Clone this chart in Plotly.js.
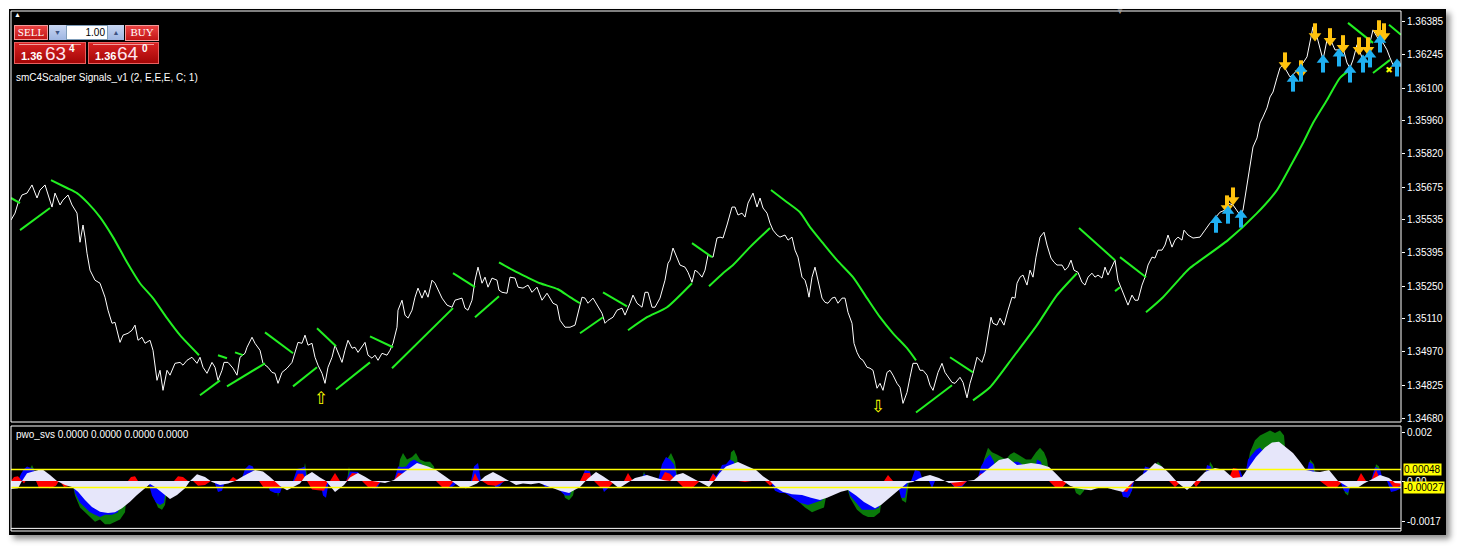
<!DOCTYPE html>
<html><head><meta charset="utf-8">
<script src="https://cdn.plot.ly/plotly-3.0.1.min.js"></script>
<style>
html,body{margin:0;padding:0;background:#fff;width:1457px;height:548px;overflow:hidden;}
#chart{position:absolute;left:9px;top:9px;width:1437px;height:526px;box-shadow:4px 4px 6px rgba(0,0,0,0.45);}
.w{position:absolute;box-sizing:border-box;font-family:"Liberation Sans",Arial,sans-serif;}
.btn{background:linear-gradient(#ea4242,#c21616);border:1px solid #f39a9a;color:#fff;font-family:"Liberation Serif",serif;font-size:11px;text-align:center;line-height:13px;}
.px{background:linear-gradient(#d82222,#a40606);border:1px solid #e86060;color:#fff;}
</style></head>
<body>
<div id="chart"></div>
<!-- trade panel -->
<div class="w" style="left:14px;top:9px;width:10px;height:12px;color:#fff;font-size:7px;line-height:12px;">&#9650;</div>
<div class="w btn" style="left:14px;top:25px;width:34px;height:15px;">SELL</div>
<div class="w" style="left:49px;top:25px;width:17px;height:15px;background:linear-gradient(#c8d6f2,#9fb6e2);color:#3d5282;font-size:7px;text-align:center;line-height:15px;">&#9660;</div>
<div class="w" style="left:66px;top:25px;width:42px;height:15px;background:#fff;border:1px solid #7f9db9;color:#000;font-size:10px;text-align:right;padding-right:2px;line-height:13px;">1.00</div>
<div class="w" style="left:108px;top:25px;width:16px;height:15px;background:linear-gradient(#c8d6f2,#9fb6e2);color:#3d5282;font-size:7px;text-align:center;line-height:15px;">&#9650;</div>
<div class="w btn" style="left:125px;top:25px;width:34px;height:16px;">BUY</div>
<div class="w px" style="left:14px;top:42px;width:72px;height:22px;">
  <div style="position:absolute;left:4px;right:4px;top:1px;height:1px;background:#f0a0a0;"></div>
  <span style="position:absolute;left:6px;top:7px;font-size:11px;font-weight:bold;">1.36</span>
  <span style="position:absolute;left:30px;top:0px;font-size:19px;color:#ffe4ee;">63</span>
  <span style="position:absolute;left:54px;top:0px;font-size:10px;font-weight:bold;">4</span>
</div>
<div class="w px" style="left:88px;top:42px;width:71px;height:22px;">
  <div style="position:absolute;left:4px;right:4px;top:1px;height:1px;background:#f0a0a0;"></div>
  <span style="position:absolute;left:6px;top:7px;font-size:11px;font-weight:bold;">1.36</span>
  <span style="position:absolute;left:28px;top:0px;font-size:19px;color:#ffe4ee;">64</span>
  <span style="position:absolute;left:53px;top:0px;font-size:10px;font-weight:bold;">0</span>
</div>
<div class="w" style="left:1116px;top:8px;width:12px;height:8px;color:#9a9a9a;font-size:8px;line-height:8px;">&#9660;</div>
<script>
// ---- main price series (bar index ~ pixel column) ----
const barX = [11,15,18,22,27,32,37,40,45,48,52,55,60,63,68,72,77,80,83,85,87,90,95,100,105,108,112,115,117,120,123,128,132,135,138,142,145,150,153,155,157,160,163,167,170,175,180,183,187,192,197,200,203,207,212,215,218,222,224,228,233,237,240,245,247,252,255,260,263,268,272,275,278,282,287,292,295,298,302,305,308,312,315,318,322,325,328,332,335,338,342,345,348,352,355,358,362,365,368,372,375,378,382,387,390,393,397,398,402,405,408,412,415,418,422,425,428,432,435,438,442,447,452,455,462,465,468,472,475,478,482,485,488,492,497,499,502,507,510,515,518,523,528,532,537,542,547,550,553,557,560,565,570,575,578,582,585,588,593,598,602,605,608,613,617,622,625,630,633,637,642,645,648,652,655,660,665,668,670,673,677,680,685,688,692,695,698,702,705,708,713,717,720,723,727,732,735,738,742,745,748,753,757,760,763,767,770,773,777,780,785,788,792,795,798,802,805,807,809,812,815,818,822,825,828,832,835,838,842,845,848,852,854,857,860,863,867,870,873,877,880,883,887,890,893,897,900,903,907,910,913,917,920,923,927,930,933,938,942,945,948,952,955,960,963,967,970,973,977,982,985,988,991,993,997,1000,1004,1008,1012,1015,1017,1020,1023,1027,1030,1033,1036,1040,1044,1047,1051,1054,1057,1062,1065,1068,1071,1074,1078,1082,1085,1088,1092,1095,1098,1102,1105,1108,1112,1115,1118,1122,1125,1128,1132,1135,1138,1142,1145,1148,1152,1155,1158,1162,1165,1168,1172,1175,1178,1182,1184,1188,1193,1200,1205,1210,1215,1220,1225,1228,1233,1237,1240,1243,1247,1250,1253,1257,1260,1263,1267,1270,1273,1277,1280,1283,1287,1290,1293,1297,1300,1303,1307,1310,1313,1317,1320,1323,1327,1332,1335,1338,1343,1347,1350,1353,1357,1360,1363,1367,1370,1373,1377,1380,1383,1387,1390,1393,1397,1400];
const closePx = [1.35534,1.35564,1.35607,1.35642,1.35650,1.35685,1.35629,1.35663,1.35685,1.35642,1.35590,1.35650,1.35599,1.35620,1.35642,1.35599,1.35564,1.35439,1.35513,1.35461,1.35392,1.35319,1.35276,1.35263,1.35203,1.35147,1.35091,1.35095,1.35061,1.35009,1.35040,1.35048,1.35061,1.35083,1.35018,1.35031,1.35005,1.35018,1.34975,1.34919,1.34846,1.34889,1.34803,1.34889,1.34868,1.34919,1.34923,1.34911,1.34932,1.34945,1.34919,1.34945,1.34902,1.34876,1.34923,1.34902,1.34846,1.34889,1.34923,1.34923,1.34898,1.34868,1.34945,1.34962,1.34988,1.35031,1.35005,1.34975,1.34919,1.34902,1.34880,1.34876,1.34833,1.34880,1.34898,1.34923,1.34966,1.35009,1.35005,1.35040,1.34997,1.35005,1.34945,1.34911,1.34876,1.34833,1.34902,1.34945,1.34997,1.34966,1.34923,1.34975,1.35018,1.34984,1.34988,1.34966,1.34988,1.35009,1.34954,1.34941,1.34954,1.34932,1.34962,1.34954,1.34975,1.35005,1.35074,1.35147,1.35190,1.35126,1.35113,1.35147,1.35203,1.35242,1.35199,1.35233,1.35203,1.35276,1.35263,1.35233,1.35199,1.35169,1.35160,1.35190,1.35199,1.35156,1.35147,1.35190,1.35276,1.35332,1.35263,1.35289,1.35246,1.35285,1.35276,1.35233,1.35224,1.35220,1.35289,1.35285,1.35246,1.35242,1.35255,1.35224,1.35246,1.35190,1.35220,1.35199,1.35177,1.35169,1.35104,1.35074,1.35074,1.35083,1.35134,1.35203,1.35199,1.35177,1.35199,1.35160,1.35134,1.35091,1.35104,1.35117,1.35147,1.35156,1.35126,1.35177,1.35212,1.35177,1.35160,1.35224,1.35224,1.35160,1.35160,1.35199,1.35276,1.35349,1.35362,1.35414,1.35375,1.35341,1.35332,1.35310,1.35267,1.35319,1.35310,1.35289,1.35319,1.35384,1.35375,1.35457,1.35461,1.35457,1.35513,1.35590,1.35590,1.35556,1.35564,1.35547,1.35607,1.35650,1.35590,1.35629,1.35586,1.35564,1.35521,1.35491,1.35470,1.35461,1.35470,1.35448,1.35461,1.35405,1.35375,1.35289,1.35276,1.35246,1.35203,1.35289,1.35332,1.35276,1.35199,1.35181,1.35177,1.35199,1.35203,1.35177,1.35199,1.35199,1.35138,1.35091,1.35005,1.34966,1.34941,1.34932,1.34902,1.34898,1.34889,1.34812,1.34833,1.34803,1.34880,1.34889,1.34868,1.34833,1.34816,1.34747,1.34794,1.34859,1.34919,1.34919,1.34889,1.34889,1.34868,1.34825,1.34803,1.34880,1.34919,1.34880,1.34859,1.34837,1.34833,1.34859,1.34837,1.34771,1.34833,1.34876,1.34945,1.34923,1.34962,1.35040,1.35117,1.35091,1.35083,1.35113,1.35083,1.35147,1.35203,1.35199,1.35263,1.35289,1.35298,1.35255,1.35319,1.35289,1.35375,1.35461,1.35482,1.35427,1.35371,1.35353,1.35341,1.35341,1.35319,1.35332,1.35362,1.35319,1.35310,1.35267,1.35255,1.35289,1.35306,1.35289,1.35298,1.35285,1.35332,1.35298,1.35332,1.35362,1.35276,1.35233,1.35203,1.35169,1.35212,1.35190,1.35190,1.35255,1.35289,1.35341,1.35375,1.35371,1.35405,1.35405,1.35427,1.35470,1.35418,1.35448,1.35461,1.35448,1.35491,1.35470,1.35457,1.35461,1.35491,1.35521,1.35543,1.35568,1.35577,1.35607,1.35599,1.35577,1.35556,1.35577,1.35693,1.35779,1.35848,1.35887,1.35951,1.35977,1.36016,1.36063,1.36084,1.36145,1.36188,1.36201,1.36170,1.36149,1.36158,1.36179,1.36192,1.36209,1.36235,1.36295,1.36364,1.36321,1.36265,1.36222,1.36308,1.36295,1.36265,1.36265,1.36274,1.36209,1.36188,1.36222,1.36287,1.36256,1.36222,1.36244,1.36295,1.36351,1.36321,1.36299,1.36295,1.36265,1.36231,1.36201,1.36209,1.36213];

// ---- smC4Scalper trend segments ----
const trendX = [[11,20],[20,50],[51,67,77,88,100,113,127,140,153,167,180,199],[200,220],[218,227],[227,265],[235,243],[265,293],[293,317],[317,336],[336,370],[370,393],[392,453],[453,475],[475,499],[499,513,527,540,558,570,580],[580,603],[603,627],[628,647,667,692],[692,712],[709,723,733,750,770],[771,787,800,810,823,837,853,867,880,893,907,916],[916,952],[950,973],[973,990,1013,1037,1057,1077],[1079,1115],[1115,1120],[1120,1146],[1146,1163,1183,1190,1228,1257,1277,1290,1303,1313,1327,1340,1350],[1348,1373],[1373,1390],[1389,1401]];
const trendY = [[1.35629,1.35607],[1.35491,1.35586],[1.35706,1.35672,1.35650,1.35607,1.35547,1.35461,1.35353,1.35263,1.35199,1.35113,1.35040,1.34954],[1.34782,1.34846],[1.34954,1.34941],[1.34820,1.34919],[1.34966,1.34954],[1.35052,1.34962],[1.34820,1.34902],[1.35070,1.34992],[1.34807,1.34923],[1.35035,1.34988],[1.34898,1.35156],[1.35306,1.35246],[1.35117,1.35207],[1.35353,1.35319,1.35289,1.35263,1.35237,1.35203,1.35177],[1.35048,1.35117],[1.35224,1.35164],[1.35061,1.35117,1.35160,1.35263],[1.35435,1.35375],[1.35250,1.35306,1.35341,1.35418,1.35500],[1.35663,1.35611,1.35568,1.35504,1.35435,1.35362,1.35289,1.35199,1.35117,1.35048,1.34984,1.34932],[1.34708,1.34825],[1.34945,1.34880],[1.34760,1.34816,1.34945,1.35083,1.35212,1.35306],[1.35500,1.35362],[1.35229,1.35246],[1.35375,1.35289],[1.35138,1.35203,1.35298,1.35328,1.35448,1.35564,1.35663,1.35762,1.35865,1.35951,1.36050,1.36145,1.36179],[1.36381,1.36295],[1.36166,1.36222],[1.36373,1.36330]];

// ---- signal arrows ----
const sellSigX = [1227,1233,1285,1301,1315,1330,1343,1359,1368,1379,1384];
const sellSigY = [1.35599,1.35633,1.36213,1.36179,1.36338,1.36317,1.36287,1.36278,1.36278,1.36351,1.36338];
const buySigX = [1216,1228,1241,1293,1301,1323,1339,1350,1363,1370,1380,1397];
const buySigY = [1.35521,1.35560,1.35543,1.36127,1.36170,1.36209,1.36235,1.36166,1.36209,1.36231,1.36295,1.36192];
const hollowUpX = [321], hollowUpY = [1.34764];
const hollowDnX = [878], hollowDnY = [1.34730];
const exitX = [1389], exitY = [1.36175];

// ---- price axis labels ----
const priceTicks = [1.36385,1.36245,1.36100,1.35960,1.35820,1.35675,1.35535,1.35395,1.35250,1.35110,1.34970,1.34825,1.34680];
const priceTickText = ["1.36385","1.36245","1.36100","1.35960","1.35820","1.35675","1.35535","1.35395","1.35250","1.35110","1.34970","1.34825","1.34680"];

// ---- pwo_svs oscillator ----
const oscX = [11,18,22,27,33,42,50,57,65,72,78,85,92,100,108,115,122,130,137,145,150,155,162,170,177,185,190,197,205,212,220,228,235,243,255,263,270,275,280,287,295,300,305,312,320,326,335,344,350,358,365,372,385,394,405,417,428,436,445,452,460,466,477,485,493,501,509,516,523,531,539,550,560,569,580,588,596,603,610,619,627,635,647,656,663,670,676,683,690,697,709,714,719,726,738,748,756,763,770,777,783,792,802,811,820,827,834,841,848,856,864,870,875,881,887,893,898,907,913,919,925,930,939,949,960,967,974,983,991,999,1008,1017,1024,1031,1040,1049,1056,1063,1070,1077,1084,1091,1097,1104,1113,1123,1129,1134,1140,1146,1155,1162,1169,1178,1187,1192,1196,1205,1215,1224,1233,1242,1249,1256,1265,1272,1279,1286,1293,1300,1306,1313,1320,1329,1334,1338,1348,1357,1364,1371,1380,1389,1395,1401];
const oscLav = [-0.00033,-0.0003,0,0.00032,0.0004,0.0005,0.00025,0,-0.00017,-0.00025,-0.00045,-0.00079,-0.00108,-0.00128,-0.00133,-0.0013,-0.00113,-0.00086,-0.00058,-0.00029,-0.00012,-0.00025,-0.0005,-0.00075,-0.00058,-0.0003,0,0.00028,0.00017,-0.00004,-0.00017,-0.0001,0,0.0002,0.00046,0.0004,0.00017,0,-0.00021,-0.00038,-0.00021,-0.0001,0.0002,0.00038,0.00015,0,-0.00046,-0.00017,0.00015,0.00033,0.00018,0,-0.00008,0.00004,0.0004,0.00075,0.0006,0.00046,0.0002,0,-0.00025,-0.0003,-0.0001,0.0002,0.00038,0.0002,0,-0.00017,-0.0001,-0.00013,-0.00008,-0.00025,-0.0004,-0.0005,-0.00025,0.0001,0.00038,0.0002,0,-0.0003,-0.00008,0.00013,0.00025,0.00013,0.00004,0,0.00025,0.00033,0.00017,0,-0.00025,0,0.0003,0.0006,0.00079,0.0006,0.00046,0.0002,0,-0.0003,-0.00046,-0.00055,-0.00058,-0.0007,-0.00079,-0.0007,-0.00058,-0.00045,-0.00037,-0.0006,-0.00087,-0.001,-0.00113,-0.001,-0.00079,-0.00055,-0.00037,-0.00008,-0.00004,0.0001,0.0002,0.00025,0.00013,-0.00008,-0.00004,0,0.00004,0.00033,0.0006,0.00088,0.00096,0.00067,0.0007,0.00075,0.0007,0.00058,0.0003,0,-0.0002,-0.0003,-0.00035,-0.00038,-0.0003,-0.00025,-0.00035,-0.00046,-0.0002,0,0.0002,0.00038,0.00075,0.0006,0.00033,-0.00008,-0.00037,-0.0002,0,0.00038,0.00054,0.00046,0.00013,0.00017,0.0006,0.001,0.0014,0.0016,0.00163,0.0014,0.00117,0.0008,0.00046,0.0004,0.00038,0.00046,0.0002,0,-0.00025,-0.00029,-0.0001,0.00004,0.00025,0.00013,-0.00008,-0.0001];

const greenX = [11,26,30,32,35,37,72,75,80,85,90,95,100,105,110,115,120,125,128,150,155,158,162,165,168,249,251,253,276,278,281,302,305,308,347,349,351,397,400,403,407,412,416,420,425,430,434,437,473,476,479,525,530,535,560,565,569,573,576,586,589,592,641,644,647,663,667,671,675,678,728,731,734,737,740,749,751,753,779,783,790,797,805,812,818,824,829,845,850,857,863,868,874,880,884,898,902,906,909,915,918,921,980,984,988,992,997,1002,1006,1010,1014,1018,1022,1026,1031,1036,1040,1044,1047,1050,1072,1076,1080,1084,1087,1124,1127,1130,1133,1150,1154,1158,1162,1165,1207,1210,1213,1216,1245,1250,1255,1260,1265,1270,1275,1280,1284,1288,1307,1310,1314,1317,1342,1345,1348,1351,1373,1376,1379,1382,1389,1392,1395,1401];
const greenV = [0,0,0.0005,0.00067,0.0004,0,0,-0.0006,-0.0011,-0.0013,-0.0015,-0.0017,-0.0016,-0.0018,-0.0018,-0.0017,-0.0016,-0.0013,0,0,-0.0008,-0.0011,-0.0012,-0.001,0,0,0.0007,0,0,-0.00067,0,0,0.00075,0,0,0.0006,0,0,0.0009,0.00117,0.0009,0.001,0.00117,0.0009,0.0008,0.0008,0.0006,0,0,0.0007,0,0,-0.0001,0,0,-0.0007,-0.0008,-0.0006,0,0,0.0005,0,0,0.0004,0,0,0.0009,0.00117,0.0008,0,0,0.0012,0.0013,0.001,0,0,0.0006,0,0,-0.0004,-0.0006,-0.0008,-0.0011,-0.0013,-0.0012,-0.0011,0,0,-0.0007,-0.0012,-0.0014,-0.0015,-0.0015,-0.0013,0,0,-0.0008,-0.0009,0,0,0.00046,0,0,0.0009,0.00138,0.0012,0.0011,0.001,0.0009,0.0011,0.0012,0.0011,0.001,0.0009,0.0009,0.0012,0.00138,0.0012,0.0009,0,0,-0.0005,-0.0006,-0.0004,0,0,-0.0007,-0.0006,0,0,0.0006,0.0008,0.0006,0,0,0.0008,0.0006,0,0,0.0012,0.0017,0.0019,0.002,0.0021,0.002,0.0021,0.0019,0,0,0.0009,0.0007,0,0,-0.0005,-0.0006,0,0,0.0007,0.0006,0,0,-0.0004,0,0];

const blueX = [11,18,21,24,27,31,34,37,46,48,51,72,75,80,85,90,95,100,105,112,118,123,148,152,156,160,164,167,214,218,222,225,241,245,249,253,257,266,270,275,280,284,293,297,301,305,307,320,323,326,329,346,350,355,358,362,368,372,377,381,394,398,402,406,410,414,418,422,425,446,450,455,459,471,474,478,481,492,496,500,504,540,545,550,555,557,560,565,570,573,581,585,590,592,600,604,608,611,641,644,648,650,658,662,666,670,674,678,709,713,716,719,722,726,730,734,738,770,775,780,785,792,800,808,815,822,829,846,850,856,862,868,874,879,882,897,901,905,908,911,915,920,923,929,932,935,949,955,962,967,977,981,985,990,994,998,1010,1014,1018,1022,1025,1033,1037,1041,1045,1118,1123,1128,1132,1134,1141,1145,1150,1155,1160,1163,1204,1207,1211,1214,1230,1235,1240,1244,1248,1252,1256,1260,1264,1268,1271,1305,1309,1313,1316,1340,1344,1348,1352,1371,1375,1380,1383,1387,1391,1396,1401];
const blueV = [0,0,0.0003,0.0005,0.0006,0.00055,0.0005,0,0,-0.0003,0,0,-0.0005,-0.0009,-0.0011,-0.0013,-0.0014,-0.0015,-0.0014,-0.0014,-0.0013,0,0,-0.0006,-0.0009,-0.001,-0.0009,0,0,-0.00046,-0.0004,0,0,0.0005,0.00067,0.0006,0,0,-0.0004,-0.0005,-0.0005,0,0,0.0005,0.00054,0.0006,0,0,-0.0006,-0.0007,0,0,0.0004,0.0004,0.00038,0,0,-0.0003,-0.0003,0,0,0.0006,0.00058,0.0006,0.0008,0.0009,0.0008,0.0007,0,0,-0.0003,-0.00017,0,0,0.0006,0.00075,0,0,-0.0003,-0.0002,0,0,-0.00025,-0.00025,0,0,-0.0004,-0.0006,-0.0006,0,0,0.00046,0.0004,0,0,-0.00046,-0.0003,0,0,0.0003,0.0002,0,0,0.0007,0.001,0.0009,0.0007,0,0,0.00033,0.0002,0.0004,0.00067,0.0007,0.0009,0.0008,0,0,-0.0004,-0.0005,-0.0005,-0.0007,-0.0009,-0.001,-0.0009,-0.0008,0,0,-0.0006,-0.0009,-0.0012,-0.0012,-0.0012,-0.0011,0,0,-0.0007,-0.0007,0,0,0.00046,0.0004,0,0,-0.0003,0,0,-0.00029,-0.00025,0,0,0.0006,0.0009,0.0011,0.0008,0,0,0.0008,0.0008,0.0007,0,0,0.0009,0.0008,0,0,-0.00065,-0.0007,-0.0004,0,0,0.0006,0.00054,0.00058,0.00055,0,0,0.00067,0.0006,0,0,0.0004,0.00046,0,0.0009,0.0011,0.0013,0.0014,0.0012,0.001,0,0,0.0008,0.0007,0,0,-0.0004,-0.0005,0,0,0.00058,0.0005,0,0,-0.00046,-0.0004,-0.0003];

const redX = [11,14,18,22,24,28,30,36,39,44,50,56,59,60,64,70,73,128,131,135,138,174,178,183,188,193,198,205,211,229,233,239,243,247,252,256,259,264,272,280,283,294,298,303,306,307,312,318,324,328,330,335,340,346,352,358,362,368,375,381,394,398,403,406,436,442,448,454,472,475,479,482,488,496,505,580,584,590,592,594,600,608,615,624,628,633,660,665,670,677,684,692,700,709,713,719,738,745,752,765,770,776,884,888,893,930,933,936,949,955,962,967,976,981,987,1049,1055,1062,1068,1114,1120,1127,1134,1143,1147,1150,1169,1175,1182,1192,1196,1201,1228,1233,1238,1242,1320,1328,1336,1343,1357,1361,1366,1371,1376,1381,1389,1394,1401];
const redV = [0,0.00017,0.0002,0,-0.0001,0.00017,0,0,-0.0003,-0.00025,-0.0003,-0.0002,0,0,-0.00025,-0.0002,0,0,0.00017,0.0002,0,0,0.0002,0.00017,0,0,-0.0002,-0.00017,0,0,0.00017,0,0,0.0003,0.00035,0,0,-0.00029,-0.0003,-0.00025,0,0,0.0003,0.0003,0,0,-0.00035,-0.00038,-0.0004,0,0,0.00033,0,0,0.00033,0.0003,0,-0.00025,-0.0003,0,0,0.00033,0.0003,0,0,-0.00025,-0.0003,0,0,0.00033,0,0,-0.00017,-0.0002,0,0,0.00033,0.00033,0,0,-0.00025,-0.00029,0,0,0.00033,0,0,0.00038,0.0003,0,-0.00029,-0.0003,0,0,0.0003,0,0,-0.00004,0,0,-0.0002,0,0,0.00025,0,0,0.0002,0,0,-0.00025,-0.0002,0,0,0.00033,0,0,-0.00025,-0.00029,0,0,-0.0004,-0.00046,0,0,0.0003,0,0,-0.00025,0,0,-0.00025,0,0,0.00054,0.0005,0,0,-0.00025,-0.0003,0,0,0.00033,0,0,0.00046,0,0,-0.0003,-0.0002];

const oscLevels = [0.00048, -0.00027];
const oscTicks = [0.002, 0, -0.0017];
const oscTickText = ["0.002", "0.00", "-0.0017"];

// ---- geometry of the main panel (used to size the arrow glyphs in pixels) ----
const PRICE_RANGE = [1.34667, 1.36432];
const MAIN_PLOT_PX = 411;
const unitPerPx = (PRICE_RANGE[1] - PRICE_RANGE[0]) / MAIN_PLOT_PX;

const AXFONT = {family: "Liberation Sans, Arial, sans-serif", size: 10, color: "#ffffff"};
const traces = [];
traces.push({x: barX, y: closePx, xaxis: "x", yaxis: "y", mode: "lines", line: {color: "#ffffff", width: 1}, hoverinfo: "skip"});
for (let i = 0; i < trendX.length; i++) {
  traces.push({x: trendX[i], y: trendY[i], xaxis: "x", yaxis: "y", mode: "lines",
    line: {color: "#22f022", width: 2, shape: "spline", smoothing: 0.6}, hoverinfo: "skip"});
}
// thick arrows: a triangular head plus a stem
function arrowTraces(xs, ys, dir, color) {
  const s = dir === "down" ? 1 : -1;       // stem sits above a down-arrow head, below an up-arrow head
  const headY = ys.map(v => v - s * 3 * unitPerPx);
  const stemY = ys.map(v => v + s * 4 * unitPerPx);
  return [
    {x: xs, y: stemY, mode: "markers", hoverinfo: "skip",
     marker: {symbol: "line-ns", size: 8, line: {width: 4, color: color}, color: color}},
    {x: xs, y: headY, mode: "markers", hoverinfo: "skip",
     marker: {symbol: dir === "down" ? "triangle-down" : "triangle-up", size: 11, color: color, line: {width: 0}}}
  ];
}
traces.push(...arrowTraces(sellSigX, sellSigY, "down", "#ffc20e"));
traces.push(...arrowTraces(buySigX, buySigY, "up", "#1fb0f2"));
traces.push({x: hollowUpX, y: hollowUpY, mode: "text", text: ["\u21E7"],
  textfont: {family: "DejaVu Sans", size: 17, color: "#ffff00"}, textposition: "middle center", hoverinfo: "skip"});
traces.push({x: hollowDnX, y: hollowDnY, mode: "text", text: ["\u21E9"],
  textfont: {family: "DejaVu Sans", size: 17, color: "#ffff00"}, textposition: "middle center", hoverinfo: "skip"});
traces.push({x: exitX, y: exitY, mode: "text", text: ["\u2716"],
  textfont: {family: "DejaVu Sans", size: 9, color: "#ffff00"}, textposition: "middle center", hoverinfo: "skip"});

// oscillator panel
traces.push({x: greenX, y: greenV, xaxis: "x2", yaxis: "y2", mode: "lines", fill: "tozeroy",
  fillcolor: "#0a7a0a", line: {width: 0, color: "#0a7a0a"}, hoverinfo: "skip"});
traces.push({x: blueX, y: blueV, xaxis: "x2", yaxis: "y2", mode: "lines", fill: "tozeroy",
  fillcolor: "#0000ff", line: {width: 0, color: "#0000ff"}, hoverinfo: "skip"});
traces.push({x: redX, y: redV, xaxis: "x2", yaxis: "y2", mode: "lines", fill: "tozeroy",
  fillcolor: "#ff0000", line: {width: 0, color: "#ff0000"}, hoverinfo: "skip"});
traces.push({x: oscX, y: oscLav, xaxis: "x2", yaxis: "y2", mode: "lines", fill: "tozeroy",
  fillcolor: "#e6e6fa", line: {width: 0, color: "#e6e6fa"}, hoverinfo: "skip"});
// horizontal level lines drawn as traces on the oscillator axes
oscLevels.forEach(v => traces.push({x: [11, 1401], y: [v, v], xaxis: "x2", yaxis: "y2", mode: "lines",
  line: {color: "#ffff00", width: 1.3}, hoverinfo: "skip"}));

const shapes = [
  {type: "rect", xref: "paper", yref: "y domain", x0: 0, x1: 1, y0: 0, y1: 1, line: {color: "#ffffff", width: 1}},
  {type: "rect", xref: "paper", yref: "y2 domain", x0: 0, x1: 1, y0: 0, y1: 1, line: {color: "#ffffff", width: 1}},
  {type: "line", xref: "paper", yref: "y2 domain", x0: 0, x1: 1, y0: 0.025, y1: 0.025, line: {color: "#ffffff", width: 1}}
];

const annotations = [
  {xref: "paper", yref: "paper", x: 0, y: 0.873, xanchor: "left", yanchor: "middle", xshift: 3, showarrow: false,
   text: "smC4Scalper Signals_v1 (2, E,E,E, C; 1)", font: {family: "Liberation Sans, Arial, sans-serif", size: 10, color: "#ffffff"}},
  {xref: "paper", yref: "paper", x: 0, y: 0.1865, xanchor: "left", yanchor: "middle", xshift: 3, showarrow: false,
   text: "pwo_svs 0.0000 0.0000 0.0000 0.0000", font: {family: "Liberation Sans, Arial, sans-serif", size: 10, color: "#ffffff"}}
];
oscLevels.forEach(v => annotations.push({xref: "paper", yref: "y2", x: 1, y: v, xanchor: "left", yanchor: "middle", xshift: 2,
  showarrow: false, text: v.toFixed(5), bgcolor: "#ffff00", borderpad: 0,
  font: {family: "Liberation Sans, Arial, sans-serif", size: 10, color: "#000000"}}));

const layout = {
  width: 1437, height: 526,
  margin: {l: 2, r: 45, t: 2, b: 4},
  paper_bgcolor: "#000000", plot_bgcolor: "#000000",
  showlegend: false, hovermode: false,
  xaxis: {domain: [0, 1], anchor: "y", range: [11, 1401], showgrid: false, zeroline: false, showticklabels: false, ticks: "", showline: false},
  xaxis2: {domain: [0, 1], anchor: "y2", matches: "x", range: [11, 1401], showgrid: false, zeroline: false, showticklabels: false, ticks: "", showline: false},
  yaxis: {domain: [0.2096, 1], side: "right", range: PRICE_RANGE, tickmode: "array", tickvals: priceTicks, ticktext: priceTickText,
    ticks: "outside", ticklen: 3, tickcolor: "#ffffff", tickfont: AXFONT, showgrid: false, zeroline: false, showline: false},
  yaxis2: {domain: [0, 0.2019], side: "right", range: [-0.00208, 0.00229], tickmode: "array", tickvals: oscTicks, ticktext: oscTickText,
    ticks: "outside", ticklen: 3, tickcolor: "#ffffff", tickfont: AXFONT, showgrid: false, zeroline: false, showline: false},
  shapes: shapes,
  annotations: annotations
};
Plotly.newPlot("chart", traces, layout, {staticPlot: true, displayModeBar: false});
</script>
</body></html>
